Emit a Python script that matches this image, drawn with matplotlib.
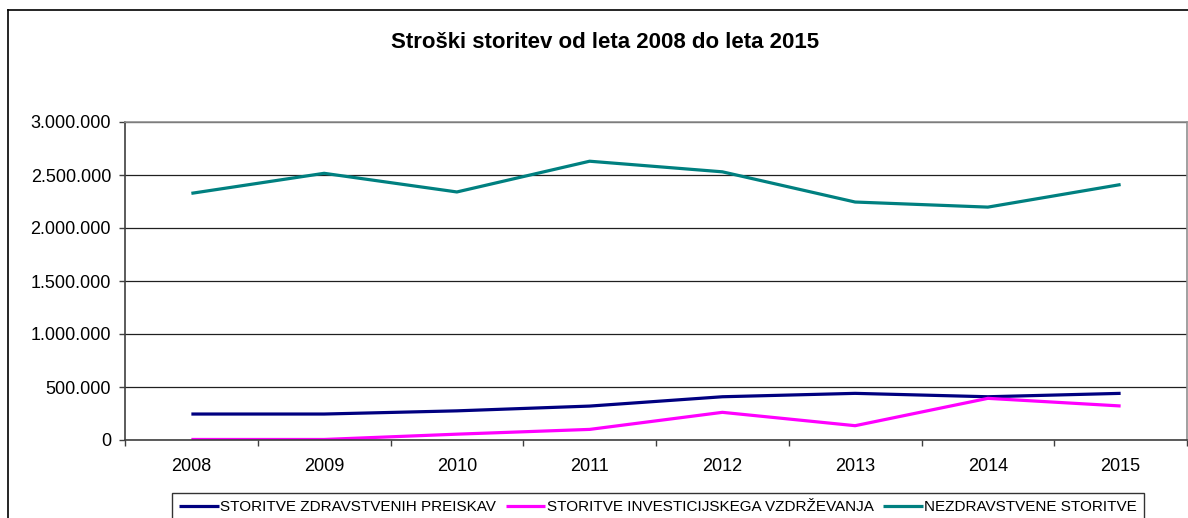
"""Stroški storitev 2008-2015, linijski graf v slogu Excela."""

import matplotlib
matplotlib.use("Agg")
import matplotlib.pyplot as plt
from matplotlib.lines import Line2D
from matplotlib.ticker import FuncFormatter, FixedLocator

years = ["2008", "2009", "2010", "2011", "2012", "2013", "2014", "2015"]
preiskave = [245000, 245000, 275000, 320000, 408000, 440000, 408000, 440000]
vzdrzevanje = [5000, 5000, 55000, 100000, 261000, 135000, 393000, 321000]
nezdravstvene = [2327000, 2516000, 2340000, 2630000, 2530000, 2245000, 2197000, 2410000]

labels = [
    "STORITVE ZDRAVSTVENIH PREISKAV",
    "STORITVE INVESTICIJSKEGA VZDRŽEVANJA",
    "NEZDRAVSTVENE STORITVE",
]
colors = ["#000080", "#FF00FF", "#008080"]

plt.rcParams["font.family"] = ["Liberation Sans", "DejaVu Sans"]

fig = plt.figure(figsize=(11.88, 5.18), dpi=100)
ax = fig.add_axes([125 / 1188, 1 - 440 / 518, 1062 / 1188, 318 / 518])

x = list(range(len(years)))
for vals, lab, col in zip([preiskave, vzdrzevanje, nezdravstvene], labels, colors):
    ax.plot(x, vals, color=col, linewidth=2.3, label=lab, solid_capstyle="butt")

ax.set_xlim(-0.5, len(years) - 0.5)
ax.set_ylim(0, 3000000)
ax.set_yticks(range(0, 3000001, 500000))
ax.yaxis.set_major_formatter(
    FuncFormatter(lambda v, _: f"{int(v):,}".replace(",", "."))
)
ax.set_xticks(x)
ax.set_xticklabels(years)
ax.xaxis.set_minor_locator(FixedLocator([i - 0.5 for i in range(len(years) + 1)]))
ax.tick_params(axis="x", which="major", length=0, pad=13, labelsize=13)
ax.tick_params(axis="x", which="minor", length=4, width=1, color="#404040", direction="out")
ax.tick_params(axis="y", length=4, width=1, color="#404040", pad=6, labelsize=13)

ax.grid(axis="y", color="#202020", linewidth=0.9)
ax.set_axisbelow(True)
for side in ["top", "right"]:
    ax.spines[side].set_color("#909090")
    ax.spines[side].set_linewidth(1.2)
for side in ["left", "bottom"]:
    ax.spines[side].set_color("#404040")
    ax.spines[side].set_linewidth(1.2)

fig.text(605 / 1188, 1 - 42 / 518, "Stroški storitev od leta 2008 do leta 2015",
         ha="center", va="center", fontsize=16, fontweight="bold")

leg = fig.legend(loc="upper center", bbox_to_anchor=(658 / 1188, 1 - 493 / 518),
                 ncol=3, frameon=True, fancybox=False, fontsize=11,
                 handlelength=2.6, handletextpad=0.1, columnspacing=0.6,
                 borderpad=0.45, borderaxespad=0)
leg.get_frame().set_edgecolor("#000000")
leg.get_frame().set_linewidth(1.0)

# okvir grafikona
fig.add_artist(Line2D([8 / 1188, 8 / 1188], [0, 1 - 10 / 518],
                      transform=fig.transFigure, color="black", linewidth=1.2))
fig.add_artist(Line2D([8 / 1188, 1], [1 - 10 / 518, 1 - 10 / 518],
                      transform=fig.transFigure, color="black", linewidth=1.2))

fig.savefig("out.png", dpi=100)
